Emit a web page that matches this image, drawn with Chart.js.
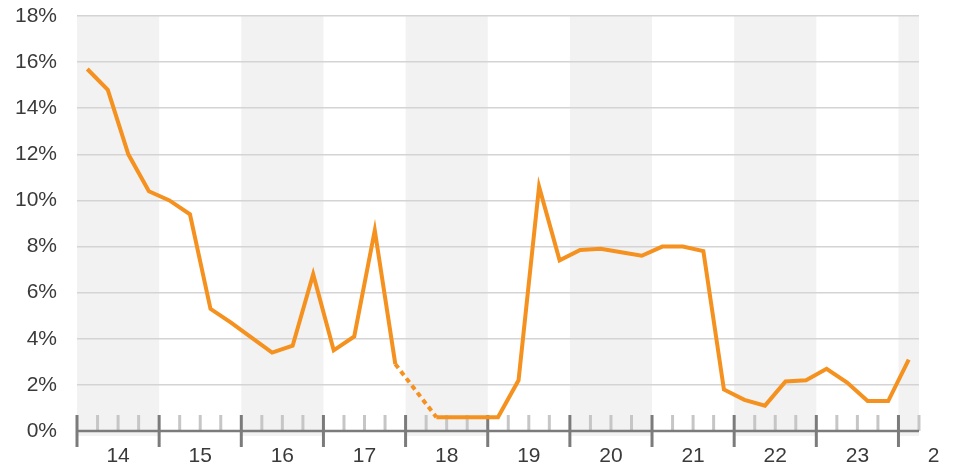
<!DOCTYPE html>
<html>
<head>
<meta charset="utf-8">
<script src="https://cdn.jsdelivr.net/npm/chart.js@4"></script>
<style>
  html, body { margin: 0; padding: 0; background: #fff; }
  #wrap { width: 955px; height: 468px; }
</style>
</head>
<body>
<div id="wrap"><canvas id="myChart"></canvas></div>
<script>
// years shown on the x axis, one band per year, 4 quarters each
const years = ['14', '15', '16', '17', '18', '19', '20', '21', '22', '23', '24'];
const quarters = ['Q1', 'Q2', 'Q3', 'Q4'];
// quarterly values in %, 2014 Q1 .. 2024 Q1 (2018 Q1 missing -> dotted)
const share = [
  15.7, 14.8, 12.0, 10.4,   // 2014
  10.0, 9.4, 5.3, 4.7,      // 2015
  4.05, 3.4, 3.7, 6.8,      // 2016
  3.5, 4.1, 8.7, 2.9,       // 2017
  null, 0.6, 0.6, 0.6,      // 2018
  0.6, 2.2, 10.6, 7.4,      // 2019
  7.85, 7.9, 7.75, 7.6,     // 2020
  8.0, 8.0, 7.8, 1.8,       // 2021
  1.35, 1.1, 2.15, 2.2,     // 2022
  2.7, 2.1, 1.3, 1.3,       // 2023
  3.1                       // 2024
];
const yMax = 18;
const yStep = 2;

const FONT = '"Helvetica Neue", Helvetica, Arial, "Liberation Sans", sans-serif';
const TEXT = '#3a3a3a';

let labels = [];
years.forEach(y => quarters.forEach(q => labels.push(y + ' ' + q)));
labels = labels.slice(0, share.length);

/* bands + axis drawn with the x scale positions */
const yearAxis = {
  id: 'yearAxis',
  beforeDraw(chart) {
    const {ctx, chartArea, scales: {x}} = chart;
    const step = x.getPixelForValue(1) - x.getPixelForValue(0);
    ctx.save();
    ctx.fillStyle = '#fff';
    ctx.fillRect(0, 0, chart.width, chart.height);
    ctx.fillStyle = '#f2f2f2';
    years.forEach((y, k) => {
      if (k % 2) return;
      const l = x.getPixelForValue(k * 4) - step / 2;
      const r = Math.min(x.getPixelForValue(k * 4 + 3) + step / 2, chartArea.right);
      ctx.fillRect(l, chartArea.top, r - l, chartArea.bottom - chartArea.top + 5);
    });
    ctx.restore();
  },
  beforeDatasetsDraw(chart) {
    const {ctx, chartArea, scales: {x}} = chart;
    const step = x.getPixelForValue(1) - x.getPixelForValue(0);
    const base = chartArea.bottom;
    ctx.save();
    // minor ticks (quarters)
    ctx.lineWidth = 3;
    ctx.strokeStyle = '#c6c6c6';
    for (let i = 0; i <= share.length; i++) {
      if (i % 4 === 0) continue;
      const px = x.getPixelForValue(i) - step / 2;
      ctx.beginPath();
      ctx.moveTo(px, base - 16);
      ctx.lineTo(px, base);
      ctx.stroke();
    }
    // axis line
    ctx.strokeStyle = '#7b7b7b';
    ctx.lineWidth = 2.5;
    ctx.beginPath();
    ctx.moveTo(chartArea.left, base);
    ctx.lineTo(chartArea.right, base);
    ctx.stroke();
    // major ticks (years)
    ctx.lineWidth = 3;
    for (let i = 0; i <= share.length; i += 4) {
      const px = x.getPixelForValue(i) - step / 2;
      ctx.beginPath();
      ctx.moveTo(px, base - 16);
      ctx.lineTo(px, base + 16);
      ctx.stroke();
    }
    // year labels, last one cut at the edge
    ctx.beginPath();
    ctx.rect(0, 0, chartArea.right + 21, chart.height);
    ctx.clip();
    ctx.fillStyle = TEXT;
    ctx.font = '21px ' + FONT;
    ctx.textAlign = 'center';
    ctx.textBaseline = 'middle';
    years.forEach((y, k) => {
      const cx = x.getPixelForValue(k * 4) - step / 2 + 2 * step;
      ctx.fillText(y, cx, base + 25);
    });
    ctx.restore();
  }
};

const ctx = document.getElementById('myChart');
new Chart(ctx, {
  type: 'line',
  data: {
    labels: labels,
    datasets: [{
      data: share,
      borderColor: '#f5911f',
      borderWidth: 4,
      pointRadius: 0,
      tension: 0,
      spanGaps: true,
      borderCapStyle: 'butt',
      borderJoinStyle: 'miter',
      segment: {
        borderDash: c => (c.p0.skip || c.p1.skip) ? [5, 4] : undefined
      }
    }]
  },
  options: {
    responsive: true,
    maintainAspectRatio: false,
    animation: false,
    layout: { padding: { top: 16, right: 36, left: 0, bottom: 0 } },
    plugins: { legend: { display: false }, tooltip: { enabled: false } },
    scales: {
      x: {
        offset: true,
        ticks: { display: false },
        grid: { display: false },
        border: { display: false },
        afterFit: s => { s.height = 37; }
      },
      y: {
        min: 0,
        max: yMax,
        ticks: {
          stepSize: yStep,
          padding: 20,
          color: TEXT,
          font: { size: 21, family: FONT },
          callback: v => v + '%'
        },
        grid: { color: '#d4d4d4', lineWidth: 1.5, drawTicks: false },
        border: { display: false },
        afterFit: s => { s.width = 77; s.paddingTop = 0; s.paddingBottom = 0; }
      }
    }
  },
  plugins: [yearAxis]
});
</script>
</body>
</html>
